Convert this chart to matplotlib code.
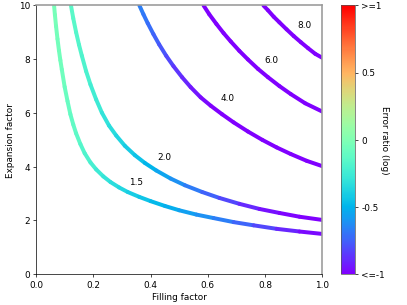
import numpy as np
import matplotlib
matplotlib.use("Agg")
import matplotlib.pyplot as plt
from matplotlib.collections import LineCollection
from matplotlib.colors import Normalize
from matplotlib.cm import ScalarMappable

# curves: filling factor, expansion factor, error ratio (log)
x_15 = [0.063, 0.066, 0.07, 0.075, 0.08, 0.085, 0.09, 0.1, 0.11, 0.12, 0.13, 0.14,
        0.155, 0.17, 0.19, 0.21, 0.235, 0.26, 0.29, 0.32, 0.36, 0.4, 0.45, 0.5,
        0.56, 0.62, 0.69, 0.76, 0.84, 0.92, 1.0]
y_15 = [10.0, 9.65, 9.22, 8.75, 8.33, 7.96, 7.62, 6.97, 6.44, 5.95, 5.57, 5.24,
        4.84, 4.50, 4.16, 3.90, 3.64, 3.43, 3.23, 3.06, 2.88, 2.72, 2.54, 2.38,
        2.22, 2.09, 1.94, 1.82, 1.69, 1.59, 1.5]
v_15 = [-0.03, -0.035, -0.04, -0.045, -0.05, -0.055, -0.06, -0.08, -0.09, -0.10, -0.12, -0.13,
        -0.15, -0.18, -0.21, -0.24, -0.28, -0.31, -0.35, -0.38, -0.42, -0.46, -0.5, -0.54,
        -0.59, -0.64, -0.7, -0.78, -0.86, -0.94, -1.0]

x_20 = [0.122, 0.13, 0.14, 0.15, 0.16, 0.175, 0.19, 0.21, 0.23, 0.255, 0.28, 0.31,
        0.345, 0.38, 0.42, 0.47, 0.52, 0.58, 0.64, 0.71, 0.78, 0.85, 0.92, 1.0]
y_20 = [10.0, 9.52, 9.0, 8.54, 8.13, 7.55, 7.06, 6.50, 6.01, 5.53, 5.16, 4.78,
        4.43, 4.14, 3.86, 3.56, 3.31, 3.06, 2.84, 2.62, 2.43, 2.28, 2.14, 2.02]
v_20 = [-0.14, -0.15, -0.16, -0.17, -0.18, -0.2, -0.22, -0.25, -0.28, -0.32, -0.35, -0.39,
        -0.43, -0.47, -0.52, -0.58, -0.64, -0.71, -0.78, -0.86, -0.93, -0.98, -1.0, -1.0]

x_40 = [0.361, 0.375, 0.39, 0.41, 0.43, 0.455, 0.48, 0.51, 0.54, 0.575, 0.61, 0.65,
        0.69, 0.74, 0.79, 0.84, 0.89, 0.945, 1.0]
y_40 = [10.0, 9.67, 9.34, 8.93, 8.55, 8.12, 7.74, 7.33, 6.96, 6.58, 6.27, 5.95,
        5.65, 5.31, 5.00, 4.72, 4.47, 4.22, 4.02]
v_40 = [-0.66, -0.68, -0.7, -0.73, -0.76, -0.8, -0.84, -0.88, -0.92, -0.96, -0.99, -1.0,
        -1.0, -1.0, -1.0, -1.0, -1.0, -1.0, -1.0]

x_60 = [0.585, 0.605, 0.63, 0.655, 0.68, 0.71, 0.74, 0.775, 0.81, 0.85, 0.89, 0.94, 1.0]
y_60 = [10.0, 9.67, 9.31, 8.97, 8.66, 8.31, 7.99, 7.64, 7.33, 7.0, 6.70, 6.36, 6.05]
v_60 = [-1.0] * 13

x_80 = [0.794, 0.81, 0.83, 0.85, 0.875, 0.9, 0.925, 0.95, 0.975, 1.0]
y_80 = [10.0, 9.82, 9.58, 9.37, 9.11, 8.86, 8.63, 8.41, 8.2, 8.05]
v_80 = [-1.0] * 10

levels = ["1.5", "2.0", "4.0", "6.0", "8.0"]
label_x = [0.349, 0.447, 0.67, 0.821, 0.936]
label_y = [3.44, 4.36, 6.53, 7.98, 9.28]

cbar_ticks = [-1, -0.5, 0, 0.5, 1]
cbar_labels = ["<=-1", "-0.5", "0", "0.5", ">=1"]

cmap = plt.get_cmap("rainbow")
norm = Normalize(-1, 1)

fig = plt.figure(figsize=(6.4, 4.8), dpi=63.6)
ax = fig.add_axes([0.0885, 0.1007, 0.7035, 0.8806])
cax = fig.add_axes([0.838, 0.1007, 0.0344, 0.8806])

curves = [(x_15, y_15, v_15), (x_20, y_20, v_20), (x_40, y_40, v_40),
          (x_60, y_60, v_60), (x_80, y_80, v_80)]
for xs, ys, vs in curves:
    pts = np.column_stack([xs, ys])
    segs = np.stack([pts[:-1], pts[1:]], axis=1)
    vals = (np.array(vs[:-1]) + np.array(vs[1:])) / 2
    lc = LineCollection(segs, cmap=cmap, norm=norm, linewidths=4.5,
                        capstyle="round", joinstyle="round")
    lc.set_array(vals)
    ax.add_collection(lc)

for lab, lx, ly in zip(levels, label_x, label_y):
    ax.text(lx, ly, lab, fontsize=10, ha="center", va="center")

ax.set_xlim(0, 1)
ax.set_ylim(0, 10)
ax.set_xlabel("Filling factor")
ax.set_ylabel("Expansion factor")
for side in ["top", "right"]:
    ax.spines[side].set_color("#999999")
    ax.spines[side].set_linewidth(1.8)
ax.tick_params(top=False, right=False)

cb = fig.colorbar(ScalarMappable(norm=norm, cmap=cmap), cax=cax, ticks=cbar_ticks)
cb.ax.set_yticklabels(cbar_labels)
cb.outline.set_edgecolor("#555555")
cb.set_label("Error ratio (log)", rotation=270, labelpad=5)

fig.savefig("out.png", dpi=63.6)
